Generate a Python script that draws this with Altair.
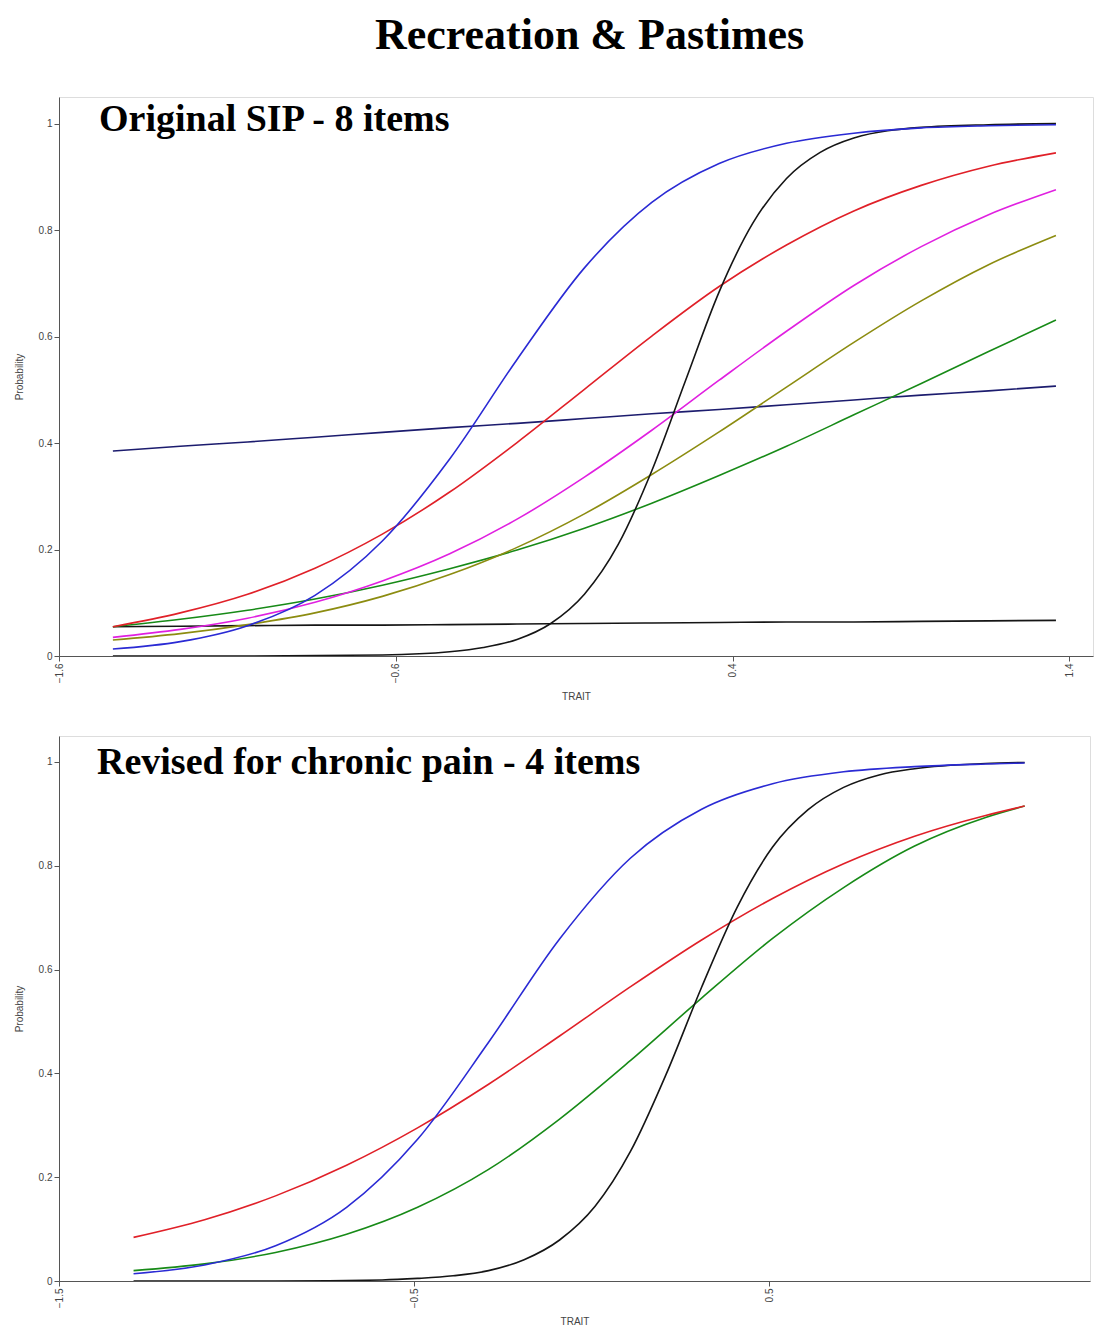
import altair as alt
import pandas as pd

# ---------- data ----------
TITLE = "Recreation & Pastimes"
TOP_LABEL = "Original SIP - 8 items"
BOT_LABEL = "Revised for chronic pain - 4 items"

# Top panel (Original SIP - 8 items)
top_t = [-1.44, -1.24, -1.04, -0.84, -0.64, -0.44, -0.24, -0.04, 0.16, 0.36, 0.56, 0.76, 0.96, 1.16, 1.36]
top_blue = [0.013, 0.027, 0.057, 0.114, 0.216, 0.370, 0.557, 0.729, 0.852, 0.925, 0.963, 0.982, 0.992, 0.996, 0.998]
top_red = [0.055, 0.081, 0.116, 0.165, 0.229, 0.308, 0.401, 0.501, 0.601, 0.694, 0.772, 0.836, 0.884, 0.920, 0.945]
top_magenta = [0.035, 0.050, 0.071, 0.101, 0.141, 0.192, 0.257, 0.336, 0.424, 0.518, 0.610, 0.696, 0.769, 0.829, 0.876]
top_olive = [0.030, 0.042, 0.059, 0.081, 0.112, 0.153, 0.204, 0.267, 0.341, 0.421, 0.505, 0.589, 0.667, 0.735, 0.790]
top_green = [0.055, 0.069, 0.086, 0.107, 0.133, 0.164, 0.199, 0.240, 0.287, 0.339, 0.394, 0.453, 0.512, 0.572, 0.631]
top_navy = [0.385, 0.394, 0.402, 0.411, 0.420, 0.429, 0.437, 0.446, 0.455, 0.463, 0.472, 0.481, 0.490, 0.498, 0.507]
top_flat = [0.055, 0.056, 0.057, 0.058, 0.058, 0.059, 0.060, 0.061, 0.062, 0.063, 0.064, 0.064, 0.065, 0.066, 0.067]
top_steep_t = [-1.44, -1.04, -0.64, -0.44, -0.34, -0.24, -0.14, -0.04, 0.06, 0.16, 0.26, 0.36, 0.46, 0.56, 0.66, 0.76, 0.96, 1.16, 1.36]
top_steep = [0.000, 0.000, 0.002, 0.008, 0.016, 0.031, 0.061, 0.116, 0.209, 0.348, 0.517, 0.684, 0.813, 0.897, 0.946, 0.973, 0.993, 0.998, 1.000]

# Bottom panel (Revised for chronic pain - 4 items)
bot_t = [-1.29, -1.09, -0.89, -0.69, -0.49, -0.29, -0.09, 0.11, 0.31, 0.51, 0.71, 0.91, 1.11, 1.22]
bot_blue = [0.014, 0.031, 0.068, 0.142, 0.273, 0.460, 0.659, 0.815, 0.909, 0.958, 0.981, 0.991, 0.996, 0.998]
bot_red = [0.084, 0.118, 0.164, 0.223, 0.295, 0.379, 0.472, 0.567, 0.657, 0.737, 0.804, 0.857, 0.897, 0.915]
bot_green = [0.020, 0.033, 0.055, 0.090, 0.142, 0.215, 0.312, 0.425, 0.545, 0.660, 0.758, 0.838, 0.893, 0.915]
bot_steep_t = [-1.29, -0.89, -0.59, -0.49, -0.39, -0.29, -0.19, -0.09, 0.01, 0.11, 0.21, 0.31, 0.41, 0.51, 0.61, 0.71, 0.81, 0.91, 1.11, 1.22]
bot_steep = [0.000, 0.000, 0.002, 0.005, 0.010, 0.020, 0.041, 0.079, 0.144, 0.250, 0.398, 0.566, 0.720, 0.836, 0.908, 0.951, 0.975, 0.987, 0.997, 0.999]

y_ticks = [0, 0.2, 0.4, 0.6, 0.8, 1]
top_x_ticks = [-1.6, -0.6, 0.4, 1.4]
bot_x_ticks = [-1.5, -0.5, 0.5]

series_names = ["T blue", "T red", "T magenta", "T olive", "T green", "T navy", "T flat", "T steep",
                "B blue", "B red", "B green", "B steep"]
series_colors = ["#2a2ad4", "#e02028", "#e020e0", "#8c8c10", "#178a17", "#1c1c6e", "#151515", "#151515",
                 "#2a2ad4", "#e02028", "#178a17", "#151515"]


def frame(name, ts, ps):
    return pd.DataFrame({"series": name, "trait": ts, "p": ps})


top_df = pd.concat([
    frame("T navy", top_t, top_navy),
    frame("T flat", top_t, top_flat),
    frame("T green", top_t, top_green),
    frame("T olive", top_t, top_olive),
    frame("T magenta", top_t, top_magenta),
    frame("T red", top_t, top_red),
    frame("T steep", top_steep_t, top_steep),
    frame("T blue", top_t, top_blue),
], ignore_index=True)

bot_df = pd.concat([
    frame("B green", bot_t, bot_green),
    frame("B red", bot_t, bot_red),
    frame("B steep", bot_steep_t, bot_steep),
    frame("B blue", bot_t, bot_blue),
], ignore_index=True)

AX = dict(
    grid=False, domainColor="#555555", tickColor="#555555", tickSize=5,
    labelColor="#444444", labelFont="Liberation Sans", labelFontSize=10,
    titleColor="#444444", titleFont="Liberation Sans", titleFontSize=10, titleFontWeight="normal",
)


def panel(df, domain, xticks, label, w, h, lx, ly):
    lines = alt.Chart(df).mark_line(strokeWidth=1.6, interpolate="monotone", clip=True).encode(
        x=alt.X("trait:Q", scale=alt.Scale(domain=domain, nice=False, zero=False),
                axis=alt.Axis(values=xticks, format=".1f", labelAngle=270, title="TRAIT",
                              titlePadding=9, **AX)),
        y=alt.Y("p:Q", scale=alt.Scale(domain=[0, 1.05], nice=False, zero=False),
                axis=alt.Axis(values=y_ticks, format="~g", title="Probability",
                              titlePadding=14, **AX)),
        color=alt.Color("series:N", scale=alt.Scale(domain=series_names, range=series_colors), legend=None),
    )
    txt = alt.Chart(pd.DataFrame({"lab": [label]})).mark_text(
        align="left", baseline="middle", font="Liberation Serif", fontSize=38, fontWeight="bold",
        color="#000000"
    ).encode(x=alt.value(lx), y=alt.value(ly), text="lab:N")
    return alt.layer(lines, txt).properties(width=w, height=h)


top = panel(top_df, [-1.6, 1.47], top_x_ticks, TOP_LABEL, 1034, 559, 40, 23)
bot = panel(bot_df, [-1.5, 1.404], bot_x_ticks, BOT_LABEL, 1031, 545, 38, 27)

chart = alt.vconcat(top, bot, spacing=32).properties(
    title=alt.TitleParams(TITLE, font="Liberation Serif", fontSize=44, fontWeight="bold",
                          anchor="middle", color="#000000", offset=39, dx=36),
    padding={"left": 5, "top": 5, "right": 0, "bottom": 0},
).configure_view(stroke="#666666", strokeWidth=1.2).configure(background="white")

chart.save("out.html", embed_options={"renderer": "svg", "actions": False})
